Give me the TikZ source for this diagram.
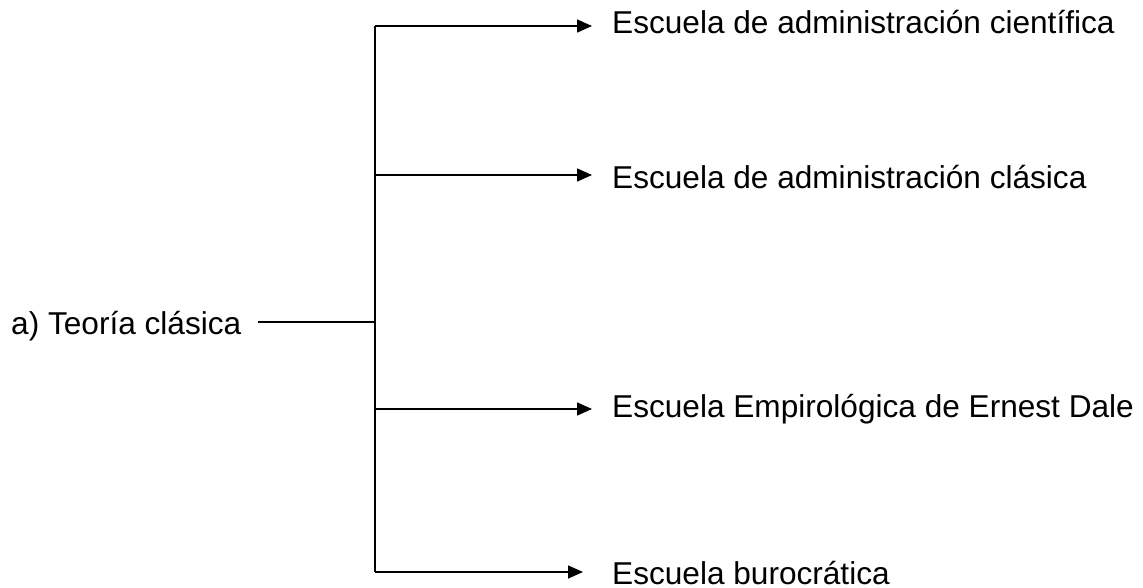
\documentclass[tikz,border=0pt]{standalone}
\usepackage{fontspec}
\setmainfont{Liberation Sans}
\usetikzlibrary{arrows.meta}
\begin{document}
\begin{tikzpicture}[x=1pt, y=-1pt]
            \tikzstyle{every node}=[inner sep=0pt, anchor=base west, font=\fontsize{31.6}{36}\selectfont, text=black]
            \tikzstyle{trunk}=[black, line width=1.6pt]
            \tikzstyle{branch}=[black, line width=1.6pt, -{Triangle[length=15pt, width=13pt]}, shorten >=20pt]
            \useasboundingbox (0,0) rectangle (1143,588);

            \node (teoria) at (11,334) {a) Teoría clásica};
            \node (cient) at (612,34) {Escuela de administración científica};
            \node (clas) at (612,189) {Escuela de administración clásica};
            \node (empir) at (612,417) {Escuela Empirológica de Ernest Dale};
            \node (buro) at (612,584) {Escuela burocrática};

            \coordinate (j) at (375,322);
            \coordinate (c1) at (375,26);
            \coordinate (c2) at (375,175);
            \coordinate (c3) at (375,409);
            \coordinate (c4) at (375,572);

            \draw[trunk] ([xshift=17pt]teoria.east |- j) -- (j);
            \draw[trunk] (c1) -- (c4);

            \draw[branch] (c1) -- (c1 -| cient.west);
            \draw[branch] (c2) -- (c2 -| clas.west);
            \draw[branch] (c3) -- (c3 -| empir.west);
            \draw[branch, shorten >=29pt] (c4) -- (c4 -| buro.west);
        \end{tikzpicture}
\end{document}
